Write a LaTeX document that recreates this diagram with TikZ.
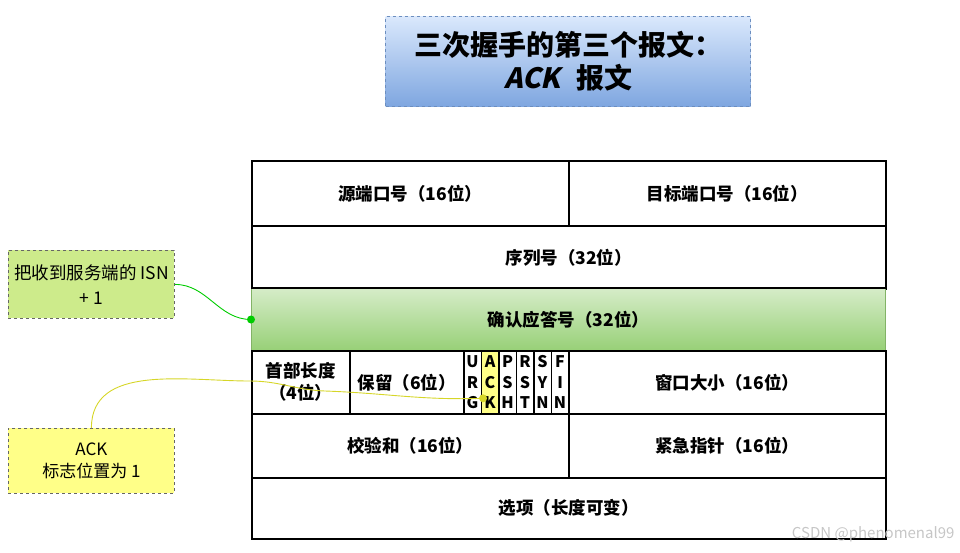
\documentclass[tikz,border=0pt]{standalone}
\usepackage{fontspec}
\setmainfont{Noto Sans CJK SC}
\newfontfamily\slantfont{Noto Sans CJK SC}[FakeSlant=0.22]
\usetikzlibrary{calc, positioning}

\definecolor{titleblue}{RGB}{108,142,191}
\definecolor{notegreen}{RGB}{205,235,139}
\definecolor{noteyellow}{RGB}{255,255,136}
\definecolor{linkgreen}{RGB}{0,204,0}
\definecolor{linkyellow}{RGB}{214,214,40}
\definecolor{flagyellow}{RGB}{255,255,136}

\tikzset{
  cell/.style={draw, line width=1.6pt, anchor=north west, inner sep=0pt,
    align=center, font=\fontsize{17.5}{22}\selectfont\bfseries},
  flagcell/.style={cell, minimum width=17.5pt, minimum height=63pt,
    font=\fontsize{16}{20.5}\selectfont\bfseries},
  note/.style={draw=gray!80!black, dashed, line width=0.8pt, anchor=north west,
    align=center, inner sep=0pt, font=\fontsize{17.5}{25}\selectfont},
  link/.style={line width=0.9pt},
}

\begin{document}
\begin{tikzpicture}[x=1pt, y=-1pt]
  \useasboundingbox (0,0) rectangle (960,552);

  % title
  \node (title) [draw=titleblue, dashed, line width=1.2pt, anchor=north west,
    top color={rgb,255:red,218;green,232;blue,252},
    bottom color={rgb,255:red,126;green,166;blue,224},
    minimum width=365pt, minimum height=90pt, align=center,
    font=\fontsize{28}{33}\selectfont\bfseries] at (385,16)
    {三次握手的第三个报文：\\{\slantfont\bfseries ACK}\hspace{0.55em}报文};

  % header rows
  \node (src) [cell, minimum width=317pt, minimum height=65pt] at (251,160) {源端口号（16位）};
  \node (dst) [cell, minimum width=317pt, minimum height=65pt] at (568,160) {目标端口号（16位）};
  \node (seq) [cell, minimum width=634pt, minimum height=63pt] at (251,225) {序列号（32位）};
  \node (ackno) [cell, draw={rgb,255:red,130;green,179;blue,102}, line width=1pt,
    top color={rgb,255:red,213;green,236;blue,200},
    bottom color={rgb,255:red,151;green,208;blue,119},
    minimum width=634pt, minimum height=62pt] at (251,288) {确认应答号（32位）};
  \draw[line width=1.6pt] (ackno.north west) -- (ackno.north east);
  \draw[line width=1.6pt] (ackno.south west) -- (ackno.south east);
  \node (hlen) [cell, minimum width=98pt, minimum height=63pt] at (251,350) {首部长度\\（4位）};
  \node (rsv) [cell, minimum width=114pt, minimum height=63pt] at (349,350) {保留（6位）};

  % flag bits
  \node (urg) [flagcell] at (463,350) {U\\R\\G};
  \node (ack) [flagcell, fill=flagyellow] at (480.5,350) {A\\C\\K};
  \node (psh) [flagcell] at (498,350) {P\\S\\H};
  \node (rst) [flagcell] at (515.5,350) {R\\S\\T};
  \node (syn) [flagcell] at (533,350) {S\\Y\\N};
  \node (fin) [flagcell] at (550.5,350) {F\\I\\N};

  \node (win) [cell, minimum width=317pt, minimum height=63pt] at (568,350) {窗口大小（16位）};
  \node (chk) [cell, minimum width=317pt, minimum height=64pt] at (251,413) {校验和（16位）};
  \node (uptr) [cell, minimum width=317pt, minimum height=64pt] at (568,413) {紧急指针（16位）};
  \node (opt) [cell, minimum width=634pt, minimum height=61pt] at (251,477) {选项（长度可变）};

  % notes
  \node (isnnote) [note, fill=notegreen, minimum width=166pt, minimum height=68pt]
    at (8,250) {把收到服务端的 ISN\\+ 1};
  \node (acknote) [note, fill=noteyellow, minimum width=166pt, minimum height=65pt,
    font=\fontsize{17}{22}\selectfont] at (8,428) {ACK\\标志位置为 1};

  % links
  \coordinate (ackdot) at ($(ack.center)+(-7,16)$);
  \coordinate (bend) at (250,381);
  \coordinate (dip) at (325,391);
  \draw[link, linkgreen] (isnnote.east) to[out=0, in=180] (ackno.west);
  \fill[linkgreen] (ackno.west) circle (4pt);
  \draw[link, linkyellow] (acknote.north) to[out=90, in=180] (bend)
    to[out=0, in=178] (dip) to[out=-2, in=182] (ackdot);
  \fill[linkyellow] (ackdot) circle (4pt);

  % watermark
  \node (mark) [anchor=east, text=gray!45, font=\fontsize{15}{18}\selectfont]
    at (958,534) {CSDN @phenomenal99};
\end{tikzpicture}
\end{document}
